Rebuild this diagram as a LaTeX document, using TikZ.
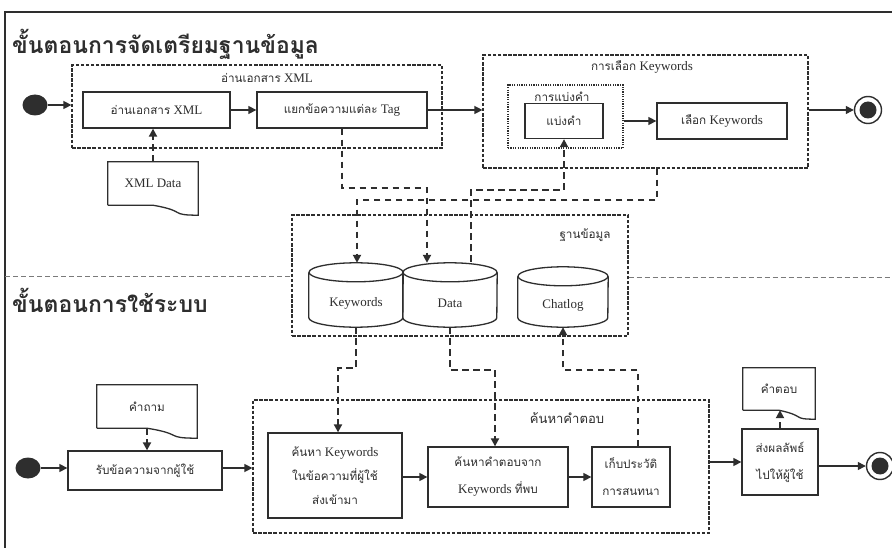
\documentclass[tikz,border=0pt]{standalone}
\usepackage{fontspec}
\setmainfont{Liberation Serif}
\newfontfamily\thaifont[Script=Thai, Scale=0.9]{Loma}
\usetikzlibrary{shapes.geometric,arrows.meta,calc}
\definecolor{ink}{HTML}{2E2E2E}
\definecolor{sep}{HTML}{7A7A7A}
\newcommand{\tx}[1]{{\thaifont #1}}
% database cylinder drawn around a named node: name, x radius, y radius of the lids
\newcommand{\drawcyl}[3]{%
  \draw[ink, line width=1.3pt] ($(#1.north west)+(0,#3)$) -- ($(#1.south west)+(0,-#3)$)
    arc[start angle=180, end angle=360, x radius=#2pt, y radius=#3pt] -- ($(#1.north east)+(0,#3)$);
  \draw[ink, line width=1.3pt] ($(#1.north)+(0,#3)$) ellipse[x radius=#2pt, y radius=#3pt];}
\tikzset{
  x=1pt, y=-1pt,
  every node/.style={inner sep=0pt, text=ink, font=\fontsize{13}{15}\selectfont},
  stepbox/.style={draw=ink, line width=1.3pt, align=center},
  grpbox/.style={draw=ink, line width=1.2pt, dash pattern=on 3.5pt off 1.6pt},
  dotbox/.style={draw=ink, line width=1.2pt, dash pattern=on 1.2pt off 1.2pt},
  docnode/.style={align=center},
  docline/.style={draw=ink, line width=1.3pt},
  flow/.style={draw=ink, line width=1.3pt, -{Triangle[length=8pt,width=8pt]}},
  dflow/.style={draw=ink, line width=1.9pt, dash pattern=on 6.5pt off 4.5pt, -{Triangle[length=8pt,width=8pt]}},
  dbnode/.style={rectangle},
  startdot/.style={ellipse, fill=ink, minimum width=25pt, minimum height=21pt},
  enddot/.style={circle, draw=ink, line width=1.4pt, minimum size=27pt,
    path picture={\fill[ink] (path picture bounding box.center) circle (8.5pt);}},
  title/.style={anchor=west, font=\fontsize{25.5}{28}\selectfont\bfseries},
  glabel/.style={},
}
\begin{document}
\begin{tikzpicture}
\useasboundingbox (0,0) rectangle (892,548);
\fill[white] (0,0) rectangle (892,548);

% outer frame
\draw[ink, line width=1.8pt] (892,12) -- (5,12) -- (5,548);

% ---------- preparation of the database ----------
\node[title] (t1) at (12,44) {\tx{ขั้นตอนการจัดเตรียมฐานข้อมูล}};

\node[grpbox, minimum width=370pt, minimum height=83pt] (gxml) at (257,106.5) {};
\node[glabel] (lxml) at (267,78) {\tx{อ่านเอกสาร} XML};
\node[stepbox, minimum width=147pt, minimum height=36pt] (readxml) at (156.5,110) {\tx{อ่านเอกสาร} XML};
\node[stepbox, minimum width=170pt, minimum height=36pt] (tag) at (342,110) {\tx{แยกข้อความแต่ละ} Tag};

\node[docnode, minimum width=90pt, minimum height=43pt] (xmldata) at (153,183.5) {XML Data};
\draw[docline] (xmldata.south west) -- (xmldata.north west) -- (xmldata.north east) -- ([yshift=-10pt]xmldata.south east)
  .. controls +(-30pt,0pt) and +(35pt,-6pt) .. ([xshift=45pt]xmldata.south west) -- (xmldata.south west);

\node[grpbox, minimum width=325pt, minimum height=113pt] (gkw) at (645.5,111.5) {};
\node[glabel] (lkw) at (642,67) {\tx{การเลือก} Keywords};
\node[dotbox, minimum width=115pt, minimum height=63pt] (gsplit) at (565.5,116.5) {};
\node[glabel] (lsplit) at (562,97) {\tx{การแบ่งคำ}};
\node[stepbox, minimum width=78pt, minimum height=35pt] (split) at (564,121) {\tx{แบ่งคำ}};
\node[stepbox, minimum width=130pt, minimum height=36pt] (choose) at (722,121) {\tx{เลือก} Keywords};

\node[startdot] (s1) at (35,105) {};
\node[enddot] (e1) at (868,110) {};

\draw[flow] (s1) -- (s1 -| gxml.west);
\draw[flow] (readxml) -- (tag);
\draw[flow] (tag.east) -- (tag.east -| gkw.west);
\draw[flow] (split.east -| gsplit.east) -- (split.east -| choose.west);
\draw[flow] (e1 -| gkw.east) -- (e1.west);
\draw[dflow] (xmldata.north) -- (xmldata.north |- readxml.south);

% ---------- database ----------
\node[grpbox, minimum width=336pt, minimum height=121pt] (gdb) at (460,275.5) {};
\node[glabel] (ldb) at (585,235) {\tx{ฐานข้อมูล}};
\node[dbnode, minimum width=94pt, minimum height=64pt] (kwdb) at (356,295) {};
\node[dbnode, minimum width=94pt, minimum height=64pt] (datadb) at (450,295) {};
\node[dbnode, minimum width=90pt, minimum height=60pt] (chatdb) at (563,297) {};
\drawcyl{kwdb}{47}{9.5}
\drawcyl{datadb}{47}{9.5}
\drawcyl{chatdb}{45}{9.5}
\node (kwl) at (356,303) {Keywords};
\node (datal) at (450,303) {Data};
\node (chatl) at (563,305) {Chatlog};

% separator between the two stages
\draw[sep, line width=1pt, dash pattern=on 5pt off 3pt] (5,277) -- (gdb.west |- 0,277);
\draw[sep, line width=1pt, dash pattern=on 5pt off 3pt] (gdb.east |- 0,278) -- (892,278);

% links between the preparation steps and the database
\coordinate (b1) at (427,188);
\draw[dflow] (tag.south) |- (b1) -- (b1 |- datadb.north);
\coordinate (b2a) at (657,200);
\coordinate (b2) at (357,200);
\draw[dflow] (b2a |- gkw.south) -- (b2a) -- (b2) -- (b2 |- kwdb.north);
\coordinate (b3) at (471,190);
\draw[dflow] ([yshift=1pt]b3 |- datadb.north) -- (b3) -| (split.south);

% ---------- using the system ----------
\node[title] (t2) at (12,300) {\tx{ขั้นตอนการใช้ระบบ}};

\node[startdot] (s2) at (28,468) {};
\node[stepbox, minimum width=154pt, minimum height=39pt] (recv) at (145,470.5) {\tx{รับข้อความจากผู้ใช้}};
\node[docnode, minimum width=100pt, minimum height=43pt] (question) at (147,406.5) {\tx{คำถาม}};
\draw[docline] (question.south west) -- (question.north west) -- (question.north east) -- ([yshift=-10pt]question.south east)
  .. controls +(-33pt,0pt) and +(38pt,-6pt) .. ([xshift=50pt]question.south west) -- (question.south west);

\node[grpbox, minimum width=456pt, minimum height=133pt] (gsearch) at (481,466.5) {};
\node[glabel, font=\fontsize{14.5}{16}\selectfont] (lsearch) at (567,418) {\tx{ค้นหาคำตอบ}};
\node[stepbox, minimum width=134pt, minimum height=85pt] (searchkw) at (335,475.5)
  {\tx{ค้นหา} Keywords\\[9pt]\tx{ในข้อความที่ผู้ใช้}\\[9pt]\tx{ส่งเข้ามา}};
\node[stepbox, minimum width=140pt, minimum height=60pt] (findans) at (498,477)
  {\tx{ค้นหาคำตอบจาก}\\[12pt]Keywords \tx{ที่พบ}};
\node[stepbox, minimum width=78pt, minimum height=60pt] (history) at (631,477)
  {\tx{เก็บประวัติ}\\[12pt]\tx{การสนทนา}};
\node[stepbox, minimum width=76pt, minimum height=66pt] (send) at (780,462)
  {\tx{ส่งผลลัพธ์}\\[12pt]\tx{ไปให้ผู้ใช้}};
\node[docnode, minimum width=72pt, minimum height=42pt] (answer) at (779,389) {\tx{คำตอบ}};
\draw[docline] (answer.south west) -- (answer.north west) -- (answer.north east) -- ([yshift=-9pt]answer.south east)
  .. controls +(-24pt,0pt) and +(28pt,-6pt) .. ([xshift=36pt]answer.south west) -- (answer.south west);
\node[enddot] (e2) at (880,466) {};

\draw[flow] (s2) -- (s2 -| recv.west);
\draw[flow] (recv.east |- s2) -- (s2 -| gsearch.west);
\draw[flow] (searchkw.east |- findans) -- (findans.west);
\draw[flow] (findans) -- (history);
\draw[flow] (send.west -| gsearch.east) -- (send.west);
\draw[flow] (send.east |- e2) -- (e2.west);
\draw[dflow] (question.south) -- (question.south |- recv.north);
\draw[dflow] (send.north) -- (send.north |- answer.south);

% links between the database and the answering steps
\coordinate (b4) at (338,368);
\draw[dflow] (kwdb.south) |- (b4) -- (b4 |- searchkw.north);
\coordinate (b5) at (495,370);
\draw[dflow] (datadb.south) |- (b5) -- (b5 |- findans.north);
\coordinate (b6) at (638,370);
\draw[dflow] (b6 |- history.north) -- (b6) -| (chatdb.south);
\end{tikzpicture}
\end{document}
